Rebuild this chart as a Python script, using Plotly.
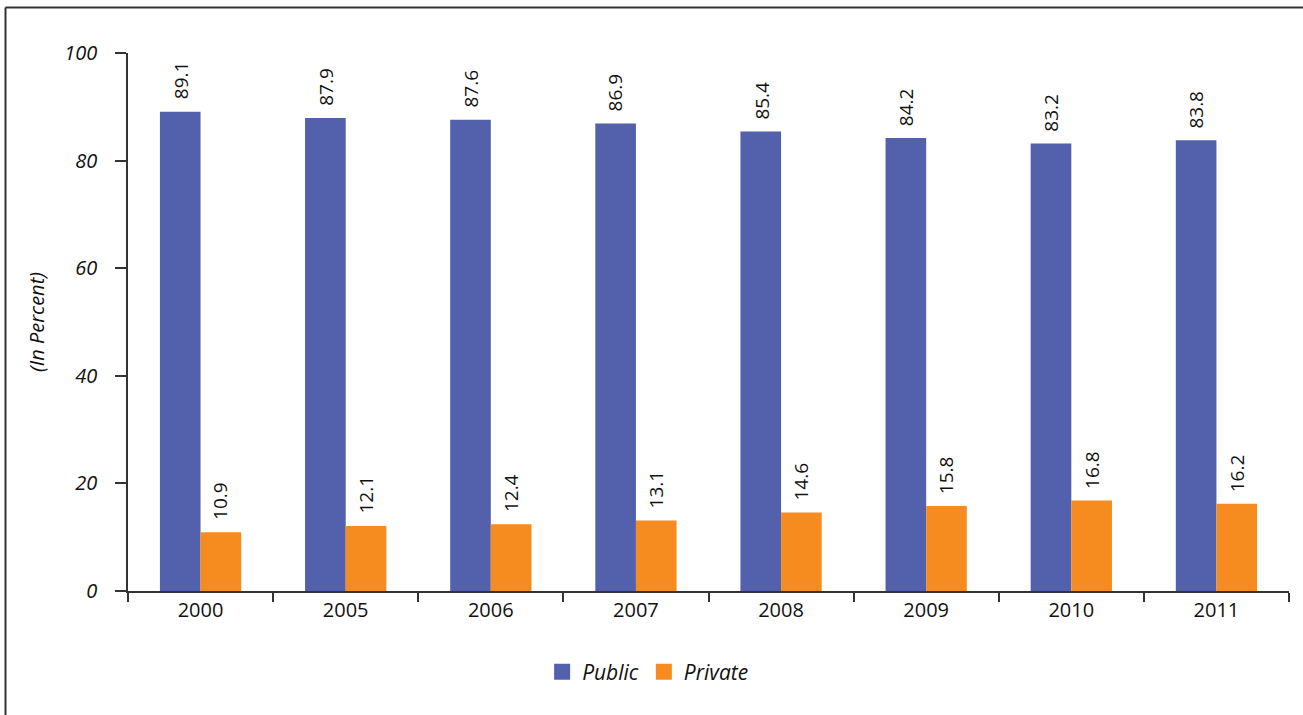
import plotly.graph_objects as go

years = ["2000", "2005", "2006", "2007", "2008", "2009", "2010", "2011"]
public = [89.1, 87.9, 87.6, 86.9, 85.4, 84.2, 83.2, 83.8]
private = [10.9, 12.1, 12.4, 13.1, 14.6, 15.8, 16.8, 16.2]

FONT = "Open Sans"
BLUE = "#5361AD"
ORANGE = "#F68B1F"
TXT = "#111111"

fig = go.Figure()
fig.add_trace(go.Bar(x=years, y=public, name="Public", marker_color=BLUE,
                     marker_line_width=0, showlegend=False))
fig.add_trace(go.Bar(x=years, y=private, name="Private", marker_color=ORANGE,
                     marker_line_width=0, showlegend=False))
# legend entries with larger square swatches
fig.add_trace(go.Scatter(x=[None], y=[None], mode="markers", name="Public",
                         marker=dict(symbol="square", size=16, color=BLUE)))
fig.add_trace(go.Scatter(x=[None], y=[None], mode="markers", name="Private",
                         marker=dict(symbol="square", size=16, color=ORANGE)))

# value labels (x given as category index)
for vals, dx in ((public, -20), (private, 20)):
    for i, v in enumerate(vals):
        fig.add_annotation(x=i, y=v, xref="x", yref="y", text=f"{v:.1f}",
                           textangle=-90, showarrow=False, xanchor="center",
                           yanchor="bottom", xshift=dx, yshift=10,
                           font=dict(family=FONT, size=19, color=TXT))

L, R, T, B = 128, 14, 53, 124
W, H = 1303, 715
pw = W - L - R
ph = H - T - B

fig.update_layout(
    width=W, height=H,
    margin=dict(l=L, r=R, t=T, b=B, pad=0),
    paper_bgcolor="white", plot_bgcolor="white",
    barmode="group", bargap=0.44, bargroupgap=0,
    font=dict(family=FONT, size=18, color=TXT),
    showlegend=True,
    legend=dict(orientation="h", x=0.448, xanchor="center", y=(591 - 672) / ph,
                yanchor="middle", font=dict(family=FONT, size=21, style="italic", color=TXT),
                itemsizing="trace", itemwidth=30, traceorder="normal"),
)
fig.update_xaxes(
    type="category", categoryorder="array", categoryarray=years,
    range=[-0.5, len(years) - 0.5],
    showline=True, linecolor="#333", linewidth=1.5,
    ticks="outside", ticklen=9, tickcolor="#333", tickwidth=1.5,
    tickson="boundaries", showgrid=False, tickangle=0,
    tickfont=dict(family=FONT, size=20, color=TXT),
)
fig.update_yaxes(
    range=[0, 100], tickvals=[0, 20, 40, 60, 80, 100],
    showline=True, linecolor="#333", linewidth=1.5,
    ticks="outside", ticklen=11, tickcolor="#333", tickwidth=1.5,
    showgrid=False, zeroline=False, ticklabelstandoff=14,
    tickfont=dict(family=FONT, size=20, color=TXT, style="italic"),
    title=dict(text="(In Percent)", standoff=14,
               font=dict(family=FONT, size=20, color=TXT, style="italic")),
)

# frame lines (top and left)
x_left = (5.5 - L) / pw
y_top = (591 - 7.5) / ph
fig.add_shape(type="line", xref="paper", yref="paper", x0=x_left, x1=(W - L) / pw,
              y0=y_top, y1=y_top, line=dict(color="#333", width=2))
fig.add_shape(type="line", xref="paper", yref="paper", x0=x_left, x1=x_left,
              y0=y_top, y1=-(H - 591) / ph, line=dict(color="#333", width=2))

fig.write_html("out.html")
